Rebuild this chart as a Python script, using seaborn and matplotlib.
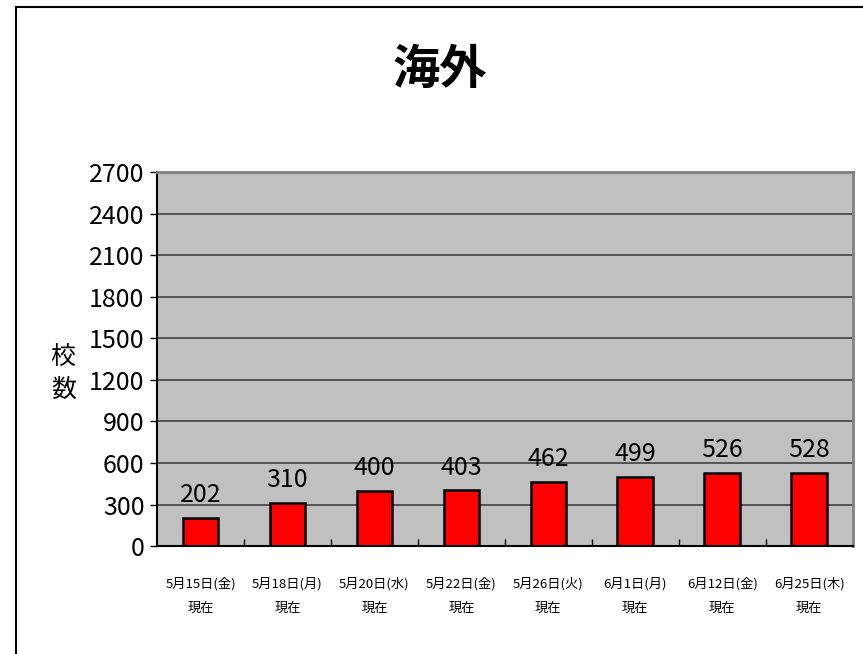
import matplotlib
matplotlib.use("Agg")
import matplotlib.pyplot as plt
import seaborn as sns
import pandas as pd
import numpy as np
from matplotlib.patches import Rectangle

dates = ["5月15日(金)", "5月18日(月)", "5月20日(水)", "5月22日(金)",
         "5月26日(火)", "6月1日(月)", "6月12日(金)", "6月25日(木)"]
counts = [202, 310, 400, 403, 462, 499, 526, 528]
yticks = [0, 300, 600, 900, 1200, 1500, 1800, 2100, 2400, 2700]

sns.set_theme(style="white")
plt.rcParams['font.family'] = ['Noto Sans CJK JP', 'DejaVu Sans']
plt.rcParams['text.color'] = 'black'
plt.rcParams['xtick.color'] = 'black'
plt.rcParams['ytick.color'] = 'black'
plt.rcParams['axes.labelcolor'] = 'black'

df = pd.DataFrame({"date": dates, "count": counts})

fig = plt.figure(figsize=(8.63, 6.54), dpi=100)
ax = fig.add_axes([0.182, 0.165, 0.806, 0.572])
ax.set_facecolor("#c0c0c0")

# outer frame
fig.patches.append(Rectangle((16 / 863, -0.05), 1.2, 1 - 7 / 654 + 0.05,
                             transform=fig.transFigure, fill=False,
                             edgecolor="black", linewidth=1.5))

ax.set_axisbelow(True)
for v in yticks[1:]:
    ax.axhline(v, color="#404040", linewidth=1.2, zorder=0)

sns.barplot(data=df, x="date", y="count", color="red", saturation=1,
            width=0.41, edgecolor="black", linewidth=1.8, ax=ax, zorder=2)

ax.bar_label(ax.containers[0], fontsize=18, padding=7)

ax.set_ylim(0, 2700)
ax.set_xlim(-0.5, len(dates) - 0.5)
ax.set_yticks(yticks)
ax.set_yticklabels([str(v) for v in yticks], fontsize=18)
ax.tick_params(axis="y", direction="out", length=5, width=1, color="black",
               pad=4, left=True)

ax.set_xticks(range(len(dates)))
ax.set_xticklabels([d + "\n現在" for d in dates], fontsize=9.5, linespacing=2.2)
ax.tick_params(axis="x", which="major", length=0, pad=22)
ax.set_xticks(np.arange(0.5, len(dates) - 0.5, 1), minor=True)
ax.tick_params(axis="x", which="minor", direction="in", length=5, width=1,
               color="black", bottom=True)

ax.set_xlabel("")
ax.set_ylabel("校\n数", rotation=0, fontsize=18, linespacing=1.3,
              va="center")
ax.yaxis.set_label_coords(-0.135, 0.46)

for s in ["top", "right"]:
    ax.spines[s].set_color("#808080")
    ax.spines[s].set_linewidth(2)
for s in ["left", "bottom"]:
    ax.spines[s].set_color("black")
    ax.spines[s].set_linewidth(1.5)

fig.text(440 / 863, 1 - 70 / 654, "海外", fontsize=34, fontweight="bold",
         ha="center", va="center")

fig.savefig("out.png", dpi=100)
